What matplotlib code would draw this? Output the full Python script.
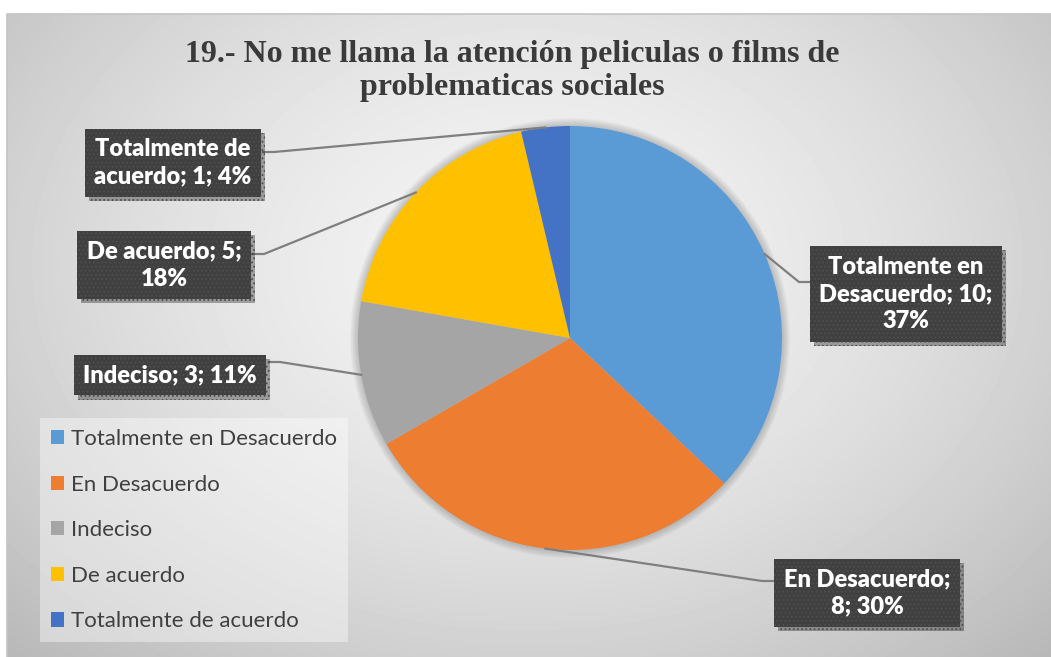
import textwrap
import numpy as np
import matplotlib
matplotlib.use("Agg")
import matplotlib.pyplot as plt
import matplotlib.patheffects as pe
from matplotlib.patches import Patch, Circle

categories = ["Totalmente en Desacuerdo", "En Desacuerdo", "Indeciso",
              "De acuerdo", "Totalmente de acuerdo"]
counts = [10, 8, 3, 5, 1]
percents = [37, 30, 11, 18, 4]
colors = ["#5B9BD5", "#ED7D31", "#A5A5A5", "#FFC000", "#4472C4"]
title = "19.- No me llama la atención peliculas o films de\nproblematicas sociales"

plt.rcParams["hatch.linewidth"] = 0.8

W, H = 1051, 657
fig = plt.figure(figsize=(W / 100, H / 100), dpi=100)
fig.patch.set_facecolor("white")

# grey radial gradient behind the chart
bg = fig.add_axes([7 / W, 0, 1 - 7 / W, 1 - 14 / H])
yy, xx = np.mgrid[0:643, 0:1044]
r = np.hypot((xx - 520) / 650, (yy - 250) / 480)
img = 0.955 - 0.19 * np.clip(r, 0, 1.2) ** 1.6
bg.imshow(img, cmap="gray", vmin=0, vmax=1, aspect="auto")
bg.axis("off")

ax = fig.add_axes([0, 0, 1, 1])
ax.patch.set_alpha(0)

cx, cy, R = 570, H - 338, 212

# soft shadow around the pie
for k in range(1, 9):
    ax.add_patch(Circle((cx, cy), R + k, color="k", alpha=0.025, lw=0, zorder=0))

ax.pie(counts, colors=colors, startangle=90, counterclock=False,
       center=(cx, cy), radius=R, wedgeprops=dict(linewidth=0), frame=True)

ax.set_xlim(0, W)
ax.set_ylim(0, H)
ax.set_aspect("auto")
ax.axis("off")

# outer border of chart area
ax.plot([7, 7, W], [0, H - 14, H - 14], color="#c4c4c4", lw=1.2, zorder=1)

ax.text(512, H - 71, title, ha="center", va="center", fontsize=23,
        fontweight="bold", family="Liberation Serif", color="#3a3a3a",
        linespacing=1.22)

total = sum(counts)
cum = np.cumsum(counts)
mid = np.radians(90 - 360 * (cum - np.array(counts) / 2) / total)

# label box centres and leader attach points (pixel coords, y down)
box_pos = [(906, 294), (867, 593), (170, 375), (164, 265), (173, 163)]
attach = [(810, 282), (773, 581), (269, 362), (253, 254), (263, 152)]

for i, cat in enumerate(categories):
    txt = textwrap.fill(f"{cat}; {counts[i]}; {percents[i]}%", width=16)
    bx, by = box_pos[i]
    t = ax.text(bx, H - by, txt, ha="center", va="center", fontsize=17,
                fontweight="heavy", family="Lato", color="white",
                linespacing=1.3, zorder=5,
                bbox=dict(boxstyle="square,pad=0.4", facecolor="#404040",
                          edgecolor="#4e4e4e", lw=0, hatch="...."))
    t.get_bbox_patch().set_path_effects(
        [pe.withSimplePatchShadow(offset=(3, -3), alpha=0.35), pe.Normal()])

    ax_, ay_ = attach[i]
    side = 1 if ax_ < cx else -1
    ex = ax_ + side * 11
    px = cx + R * np.cos(mid[i])
    py = cy + R * np.sin(mid[i])
    ax.plot([ax_, ex, px], [H - ay_, H - ay_, py], color="#7f7f7f",
            lw=1.6, zorder=4, solid_joinstyle="miter")

handles = [Patch(facecolor=c, edgecolor="none") for c in colors]
leg = fig.legend(handles, categories, loc="upper left",
                 bbox_to_anchor=(40 / W, 1 - 418 / H), borderaxespad=0,
                 frameon=True, fancybox=False,
                 prop=dict(family="Lato", size=16),
                 labelcolor="#404040", handlelength=0.6, handleheight=0.6,
                 handletextpad=0.3, labelspacing=1.15, borderpad=0.5)
leg.get_frame().set_facecolor("white")
leg.get_frame().set_alpha(0.4)
leg.get_frame().set_edgecolor("none")

fig.savefig("out.png", dpi=100, facecolor="white")
